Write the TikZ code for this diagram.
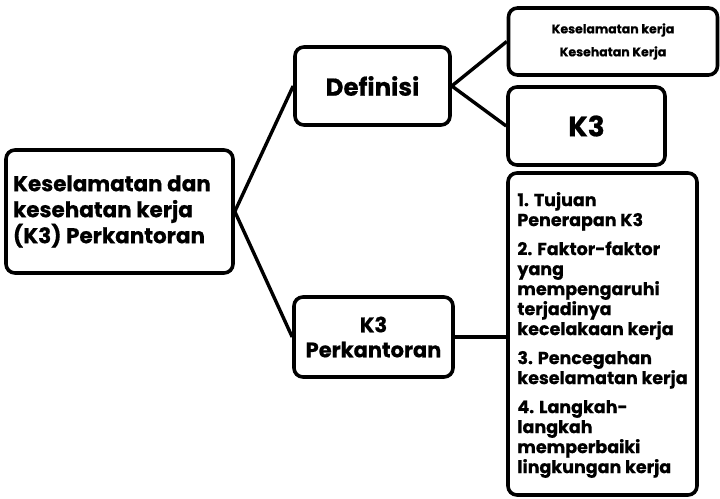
\documentclass[tikz,border=0pt]{standalone}
\usepackage{fontspec}
\setmainfont{Poppins}[BoldFeatures={FakeBold=0.6}]
\begin{document}
\begin{tikzpicture}[x=1pt,y=-1pt,
  box/.style={draw=black,line width=3.6pt,rounded corners=9pt,fill=white,inner sep=4pt},
  link/.style={draw=black,line width=3.4pt},
  every node/.style={font=\bfseries}]
\useasboundingbox (0,0) rectangle (720,498);
\node[box,minimum width=227pt,minimum height=123pt,inner xsep=7pt,text width=213pt,align=flush left,font=\bfseries\fontsize{21.5}{26}\selectfont] (main) at (119.5,211.5)
  {Keselamatan dan\\kesehatan kerja\\(K3) Perkantoran};
\node[box,minimum width=155pt,minimum height=78pt,font=\bfseries\fontsize{24.5}{28}\selectfont] (def) at (372.5,86) {Definisi};
\node[box,minimum width=209pt,minimum height=67pt,align=center,font=\bfseries\fontsize{12.5}{23}\selectfont] (top) at (613,41.5)
  {Keselamatan kerja\\Kesehatan Kerja};
\node[box,minimum width=157pt,minimum height=78pt,font=\bfseries\fontsize{28}{32}\selectfont] (k3) at (586.5,126) {K3};
\node[box,minimum width=159pt,minimum height=80pt,align=center,font=\bfseries\fontsize{21}{25}\selectfont] (perk) at (373.5,337)
  {K3\\Perkantoran};
\node[box,minimum width=189pt,minimum height=322pt,align=left,font=\bfseries\fontsize{17.5}{20}\selectfont] (list) at (602.5,334)
  {\rule{0pt}{8pt}\\[-12pt]1. Tujuan\\Penerapan K3\\[9pt]
   2. Faktor-faktor\\yang\\mempengaruhi\\terjadinya\\kecelakaan kerja\\[9pt]
   3. Pencegahan\\keselamatan kerja\\[9pt]
   4. Langkah-\\langkah\\memperbaiki\\lingkungan kerja};
\draw[link] (main.east) -- (def.west);
\draw[link] (main.east) -- (perk.west);
\draw[link] (def.east) -- (top.west);
\draw[link] (def.east) -- (k3.west);
\draw[link] (perk.east) -- (perk.east -| list.west);
\end{tikzpicture}
\end{document}
